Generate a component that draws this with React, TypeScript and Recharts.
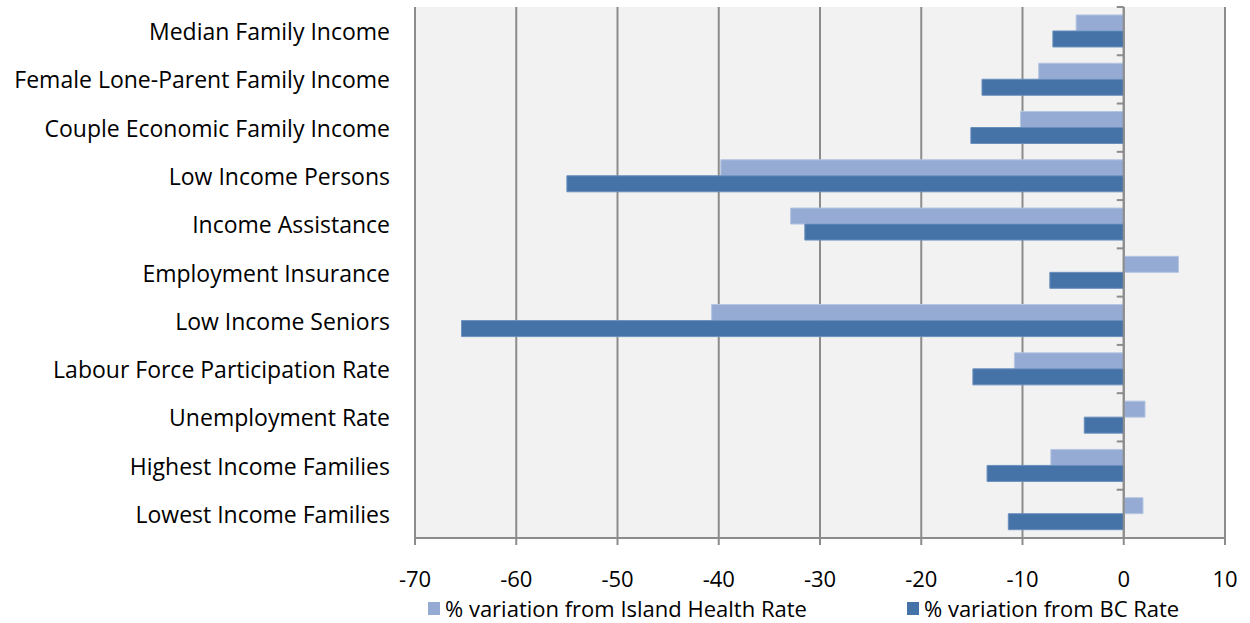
import { BarChart, Bar, XAxis, YAxis, CartesianGrid, ReferenceLine } from 'recharts';

const categories = [
  'Median Family Income',
  'Female Lone-Parent Family Income',
  'Couple Economic Family Income',
  'Low Income Persons',
  'Income Assistance',
  'Employment Insurance',
  'Low Income Seniors',
  'Labour Force Participation Rate',
  'Unemployment Rate',
  'Highest Income Families',
  'Lowest Income Families',
];

const islandHealth = [-4.7, -8.4, -10.2, -39.8, -32.9, 5.4, -40.7, -10.8, 2.1, -7.2, 1.9];
const bcRate = [-7.0, -14.0, -15.1, -55.0, -31.5, -7.3, -65.4, -14.9, -3.9, -13.5, -11.4];

const xTicks = [-70, -60, -50, -40, -30, -20, -10, 0, 10];

const data = categories.map((name, i) => ({
  name,
  island: islandHealth[i],
  bc: bcRate[i],
}));

const W = 1250;
const H = 623;
const X_AXIS_H = 30;
const M = { top: 7, right: 25, bottom: 85 - X_AXIS_H, left: 0 };
const Y_W = 415;
const PLOT_W = W - Y_W - M.right;
const PLOT_H = H - M.top - M.bottom - X_AXIS_H;
const BAND = PLOT_H / categories.length;
const ZERO_X = Y_W + (PLOT_W * (0 - xTicks[0])) / (xTicks[xTicks.length - 1] - xTicks[0]);

const LIGHT = '#95abd3';
const DARK = '#4573a8';
const GRID = '#8c8c8c';
const FONT = '"Open Sans", sans-serif';
const FS = 23;

// eslint-disable-next-line @typescript-eslint/no-explicit-any
const CatTick = ({ x, y, payload, index }: any) => (
  <g>
    <text x={x} y={y} textAnchor="end" dominantBaseline="central" fill="#000" fontSize={FS} fontFamily={FONT}>
      {payload.value}
    </text>
    <line x1={ZERO_X - 7} x2={ZERO_X} y1={y - BAND / 2} y2={y - BAND / 2} stroke={GRID} strokeWidth={2} />
    {index === categories.length - 1 && (
      <line x1={ZERO_X - 7} x2={ZERO_X} y1={y + BAND / 2} y2={y + BAND / 2} stroke={GRID} strokeWidth={2} />
    )}
  </g>
);

const legendItem = (left: number, color: string, label: string) => (
  <div style={{ position: 'absolute', left, top: 0, display: 'flex', alignItems: 'center', height: 26, whiteSpace: 'nowrap' }}>
    <span style={{ width: 12, height: 13, background: color, marginRight: 5, display: 'inline-block' }} />
    {label}
  </div>
);

const LegendBox = () => (
  <div style={{ position: 'absolute', left: 0, top: 595, width: W, height: 26, fontFamily: FONT, fontSize: 22, lineHeight: '26px', color: '#000' }}>
    {legendItem(428, LIGHT, '% variation from Island Health Rate')}
    {legendItem(907, DARK, '% variation from BC Rate')}
  </div>
);

export default function App() {
  return (
    <div style={{ position: 'fixed', left: 0, top: 0, width: W, height: H, background: '#fff' }}>
      <BarChart
        width={W}
        height={H}
        data={data}
        layout="vertical"
        margin={M}
        barCategoryGap="16.5%"
        barGap={0}
      >
        <CartesianGrid horizontal={false} stroke={GRID} strokeWidth={2} fill="#f2f2f2" />
        <XAxis
          type="number"
          height={X_AXIS_H}
          domain={[xTicks[0], xTicks[xTicks.length - 1]]}
          ticks={xTicks}
          interval={0}
          axisLine={{ stroke: GRID, strokeWidth: 2 }}
          tickLine={{ stroke: GRID, strokeWidth: 2 }}
          tickSize={7}
          tickMargin={26}
          tick={{ fontSize: 22, fill: '#000', fontFamily: FONT }}
        />
        <XAxis
          xAxisId="top"
          orientation="top"
          type="number"
          domain={[xTicks[0], xTicks[xTicks.length - 1]]}
          height={0}
          tick={false}
          tickLine={false}
          axisLine={{ stroke: '#a6a6a6', strokeWidth: 2 }}
        />
        <YAxis
          type="category"
          dataKey="name"
          width={Y_W}
          axisLine={false}
          tickLine={false}
          tickSize={0}
          tickMargin={25}
          interval={0}
          tick={<CatTick />}
        />
        <ReferenceLine x={0} stroke={GRID} strokeWidth={2} />
        <Bar dataKey="island" name="% variation from Island Health Rate" fill={LIGHT} stroke="#b4c5e2" strokeWidth={1} isAnimationActive={false} />
        <Bar dataKey="bc" name="% variation from BC Rate" fill={DARK} stroke="#6a8fbd" strokeWidth={1} isAnimationActive={false} />
      </BarChart>
      <LegendBox />
    </div>
  );
}
